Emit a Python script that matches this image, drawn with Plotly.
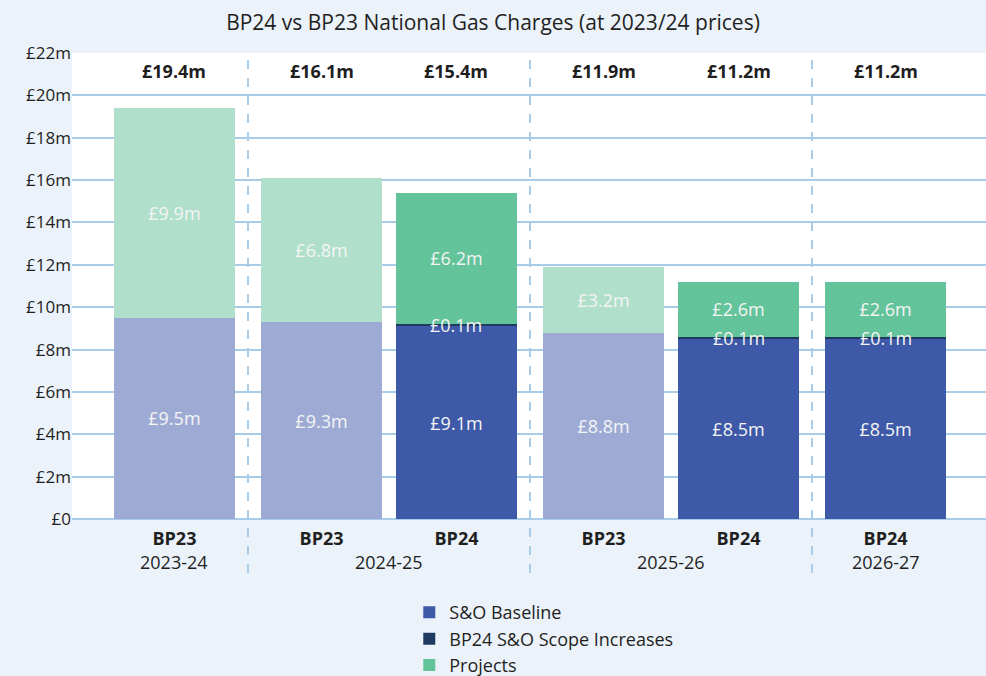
import plotly.graph_objects as go

# one entry per bar, left to right
years = ["2023-24", "2024-25", "2024-25", "2025-26", "2025-26", "2026-27"]
plans = ["BP23", "BP23", "BP24", "BP23", "BP24", "BP24"]
baseline = [9.5, 9.3, 9.1, 8.76, 8.5, 8.5]
scope = [0, 0, 0.1, 0, 0.1, 0.1]
projects = [9.9, 6.8, 6.2, 3.16, 2.6, 2.6]

y_ticks = [0, 2, 4, 6, 8, 10, 12, 14, 16, 18, 20, 22]

FONT = "Open Sans"
BG = "#ebf2f9"
GRID = "#a9cce8"
TXT = "#1f1f1f"
LBL = "#f4f4f4"
COLORS = {
    "BP24": {"base": "#3e59a8", "scope": "#1f3a60", "proj": "#63c39a"},
    "BP23": {"base": "#9dabd4", "proj": "#b0e0cb"},
}
GROUP_GAP = 0.09
BAR_W = 0.896

# x position of each bar: extra gap between year groups
groups = list(dict.fromkeys(years))
xpos = [i + GROUP_GAP * groups.index(y) for i, y in enumerate(years)]


def pick(vals, plan):
    xs = [x for x, p in zip(xpos, plans) if p == plan]
    ys = [v for v, p in zip(vals, plans) if p == plan]
    return xs, ys


fig = go.Figure()
bar_kw = dict(width=BAR_W, texttemplate="£%{y:.1f}m", textposition="inside",
              insidetextanchor="middle",
              textfont=dict(color=LBL, size=18, family=FONT))

series = [("S&O Baseline", baseline, "base"),
          ("BP24 S&O Scope Increases", scope, "scope"),
          ("Projects", projects, "proj")]
for name, vals, key in series:
    xs, ys = pick(vals, "BP24")
    kw = dict(bar_kw)
    if key == "scope":
        kw["textposition"] = "none"  # labelled with annotations, slice too thin
    fig.add_trace(go.Bar(x=xs, y=ys, name=name, marker_color=COLORS["BP24"][key],
                         marker_line_width=0, **kw))
for name, vals, key in series:
    if key == "scope":
        continue
    xs, ys = pick(vals, "BP23")
    fig.add_trace(go.Bar(x=xs, y=ys, name=name, showlegend=False,
                         marker_color=COLORS["BP23"][key], marker_line_width=0, **bar_kw))

# scope increase labels sit on the thin slice
for x, b, s in zip(xpos, baseline, scope):
    if s:
        fig.add_annotation(x=x, y=b + s / 2, yanchor="middle", text=f"£{s:.1f}m",
                           showarrow=False, font=dict(size=18, color=LBL, family=FONT))

# totals above each bar
for x, b, s, p in zip(xpos, baseline, scope, projects):
    fig.add_annotation(x=x, y=21.15, yanchor="middle", text=f"<b>£{b + s + p:.1f}m</b>",
                       showarrow=False, font=dict(size=18, color=TXT, family=FONT))

# year labels under each group
for g in groups:
    xs = [x for x, y in zip(xpos, years) if y == g]
    fig.add_annotation(x=sum(xs) / len(xs), y=-0.092, yref="paper", yanchor="middle",
                       text=g, showarrow=False,
                       font=dict(size=18, color=TXT, family=FONT))

# dashed separators between year groups
for i in range(1, len(xpos)):
    if years[i] != years[i - 1]:
        xm = (xpos[i] + xpos[i - 1]) / 2
        fig.add_shape(type="line", x0=xm, x1=xm, y0=-0.116, y1=1, xref="x", yref="paper",
                      line=dict(color=GRID, width=2, dash="dash"))

fig.update_layout(
    width=986, height=676,
    barmode="stack",
    paper_bgcolor=BG, plot_bgcolor="white",
    font=dict(family=FONT, color=TXT),
    title=dict(text="BP24 vs BP23 National Gas Charges (at 2023/24 prices)",
               x=0.5, xref="container", xanchor="center", y=0.967, yanchor="middle",
               font=dict(size=21, color=TXT)),
    margin=dict(l=72, r=0, t=53, b=157, autoexpand=False),
    uniformtext=dict(minsize=18, mode="show"),
    legend=dict(orientation="v", x=0.369, xanchor="left", y=-0.161, yanchor="top",
                font=dict(size=18, color=TXT), bgcolor="rgba(0,0,0,0)",
                traceorder="normal"),
    xaxis=dict(range=[-0.759, xpos[-1] + 0.744], tickvals=xpos,
               ticktext=[f"<b>{p}</b>" for p in plans], showgrid=False,
               zeroline=False, showline=False, ticks="", ticklabelstandoff=7,
               tickfont=dict(size=18, color=TXT, family=FONT)),
    yaxis=dict(range=[0, 22], tickvals=y_ticks,
               ticktext=["£0" if v == 0 else f"£{v}m" for v in y_ticks],
               gridcolor=GRID, gridwidth=1.5, zeroline=True, zerolinecolor=GRID,
               zerolinewidth=1.5, showline=False, ticks="",
               tickfont=dict(size=17, color=TXT, family=FONT)),
)

fig.write_html("out.html", config={"displayModeBar": False},
               post_script="document.body.style.margin='0';")
